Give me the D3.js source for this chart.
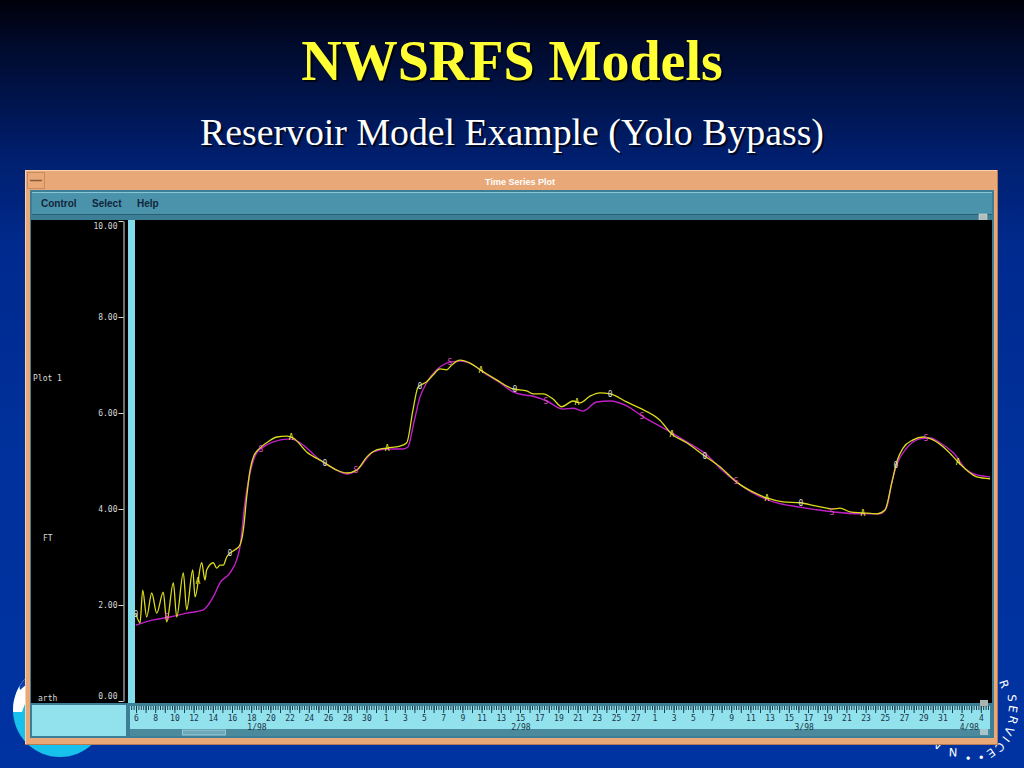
<!DOCTYPE html>
<html><head><meta charset="utf-8">
<script src="https://cdn.jsdelivr.net/npm/d3@7"></script>
<style>html,body{margin:0;padding:0;overflow:hidden;background:#0033a0}</style>
</head><body><svg id="c" width="1024" height="768"></svg>
<script>
// ---------------- DATA ----------------
const titleText = "NWSRFS Models";
const subtitleText = "Reservoir Model Example (Yolo Bypass)";
const windowTitle = "Time Series Plot";
const menuItems = ["Control", "Select", "Help"];
const sideLabels = ["Plot 1", "FT", "arth"];
const yTickValues = [0, 2, 4, 6, 8, 10];
const monthLabels = ["1/98", "2/98", "3/98", "4/98"];
const monthLabelDays = [18.6, 46.1, 75.6, 92.8];   // day of year 1998 (Jan 1 = 1)
// observed stage (yellow): [day of year, feet]
const observed = [[5.97,1.83],[6.42,1.63],[6.70,2.31],[7.11,1.75],[7.64,2.25],[8.16,1.83],[8.84,2.27],[9.20,1.65],[9.89,2.46],[10.24,1.75],
[10.93,2.67],[11.28,1.90],[11.91,2.73],[12.15,2.17],[12.84,2.88],[13.19,2.52],[13.36,2.73],[14.05,2.88],[14.41,2.77],[14.75,2.83],
[15.09,2.83],[15.45,3.00],[15.79,3.08],[16.31,3.15],[16.83,3.25],[17.18,3.56],[17.53,4.25],[17.88,4.81],[18.22,5.08],[18.92,5.27],
[19.61,5.38],[20.66,5.50],[21.70,5.52],[22.39,5.48],[23.78,5.19],[25.51,4.98],[26.91,4.81],[27.95,4.75],[28.99,4.81],[30.03,5.08],
[31.07,5.23],[32.11,5.27],[33.50,5.31],[34.20,5.38],[34.85,6.06],[35.38,6.54],[36.28,6.65],[36.94,6.79],[37.67,6.92],[38.36,6.90],
[38.89,7.00],[39.75,7.10],[40.79,7.04],[42.01,6.88],[43.57,6.69],[45.27,6.50],[46.70,6.46],[47.35,6.40],[48.40,6.40],[49.44,6.29],
[50.34,6.13],[51.52,6.25],[52.25,6.21],[53.29,6.35],[54.33,6.42],[55.38,6.40],[57.11,6.23],[58.50,6.10],[60.58,5.85],[61.80,5.56],
[63.36,5.38],[65.27,5.10],[66.83,4.88],[68.57,4.56],[70.30,4.35],[71.70,4.23],[73.40,4.15],[75.17,4.13],[76.91,4.06],[78.60,4.00],
[79.33,4.02],[80.38,3.94],[81.73,3.92],[83.16,3.90],[84.02,3.98],[84.72,4.54],[85.24,4.98],[85.90,5.27],[86.94,5.44],[87.98,5.50],
[89.02,5.44],[90.45,5.23],[91.63,4.98],[92.53,4.81],[93.57,4.67],[94.96,4.63]];
// simulated stage (magenta): [day of year, feet]
const simulated = [[5.97,1.58],[7.80,1.69],[9.54,1.75],[11.28,1.83],[13.01,1.90],[14.05,2.17],[14.75,2.46],[15.79,2.67],[16.49,2.94],[16.83,3.21],
[17.35,4.13],[17.88,4.75],[18.57,5.17],[19.26,5.29],[20.30,5.40],[22.04,5.46],[23.08,5.38],[25.17,5.02],[26.91,4.81],[27.95,4.73],
[28.99,4.81],[30.72,5.19],[32.11,5.25],[33.84,5.25],[34.33,5.29],[34.85,5.71],[35.58,6.33],[36.28,6.63],[37.32,6.90],[38.71,7.06],
[39.75,7.08],[41.14,7.00],[42.15,6.85],[43.92,6.63],[45.27,6.44],[46.31,6.38],[47.35,6.35],[48.78,6.25],[50.48,6.08],[51.52,6.10],
[52.56,6.04],[53.99,6.23],[55.38,6.25],[57.11,6.15],[58.84,5.92],[61.28,5.65],[63.36,5.40],[65.45,5.13],[66.83,4.85],[68.57,4.56],
[70.30,4.33],[72.39,4.15],[75.17,4.04],[78.60,3.94],[81.42,3.90],[83.50,3.90],[84.20,4.04],[84.72,4.54],[85.24,4.92],[86.28,5.27],
[87.67,5.46],[88.71,5.48],[89.75,5.38],[91.14,5.17],[92.53,4.81],[93.57,4.71],[94.96,4.67]];
// plot symbols along the curves
const markerDays = [6.0,9.23,12.46,15.79,19.02,22.15,25.69,28.92,32.15,35.58,38.71,41.94,45.48,48.71,51.94,55.38,58.71,61.83,65.27,68.50,71.73,75.27,78.50,81.73,85.17,88.29,91.63];
const markerSymbols = ["0","S","A","0","S","A","0","S","A","0","S","A","0","S","A","0","S","A","0","S","A","0","S","A","0","S","A"];
const logoLetters = ["R","S","E","R","V","I","C","E","\u2022","\u2022","N","A"];

// ---------------- DRAW ----------------
const svg = d3.select("#c");
const W = 1024, H = 768;
const defs = svg.append("defs");
const g = defs.append("linearGradient").attr("id","bg").attr("x1",0).attr("y1",0).attr("x2",0).attr("y2",1);
[[0,"#00000a"],[0.06,"#000a2c"],[0.2,"#001e6c"],[0.32,"#002a8e"],[0.6,"#00319c"],[1,"#0033a2"]]
  .forEach(s => g.append("stop").attr("offset", s[0]).attr("stop-color", s[1]));
svg.append("rect").attr("width",W).attr("height",H).attr("fill","url(#bg)");

const serif = "'Liberation Serif','Times New Roman',serif";
// title
svg.append("text").attr("x",514).attr("y",82).attr("text-anchor","middle").attr("font-family",serif)
  .attr("font-weight","bold").attr("font-size",56).attr("fill","#000").attr("opacity",0.7).text(titleText);
svg.append("text").attr("x",512).attr("y",80).attr("text-anchor","middle").attr("font-family",serif)
  .attr("font-weight","bold").attr("font-size",56).attr("fill","#ffff33").text(titleText);
svg.append("text").attr("x",514).attr("y",147).attr("text-anchor","middle").attr("font-family",serif)
  .attr("font-size",37.8).attr("fill","#000").attr("opacity",0.7).text(subtitleText);
svg.append("text").attr("x",512).attr("y",145).attr("text-anchor","middle").attr("font-family",serif)
  .attr("font-size",37.8).attr("fill","#ffffff").text(subtitleText);

// left logo (partially hidden)
svg.append("circle").attr("cx",60).attr("cy",710).attr("r",47).attr("fill","#18c0ec");
defs.append("clipPath").attr("id","lc").append("circle").attr("cx",60).attr("cy",710).attr("r",47);
svg.append("path").attr("clip-path","url(#lc)").attr("d","M0,660 L40,660 L30,690 L22,712 L0,712 Z").attr("fill","#ffffff");
svg.append("path").attr("clip-path","url(#lc)").attr("d","M15,660 L35,660 L27,684 L20,690 Z").attr("fill","#1040b0");

// right logo: letters around a seal
{
  const cx = 955, cy = 700;
  const pos = [[1004,684],[1012,698],[1013,709],[1013,720],[1009,731],[1006,739],[1000,747],[991,753],[981,757],[968,758],[953,752],[938,745]];
  logoLetters.forEach((ch,i) => {
    const [px,py] = pos[i];
    const ang = Math.atan2(py-cy, px-cx) * 180 / Math.PI + 90;
    svg.append("text").attr("transform",`translate(${px},${py}) rotate(${ang})`).attr("text-anchor","middle").attr("dy","0.35em")
      .attr("font-family","'DejaVu Sans',sans-serif").attr("font-size",11.5).attr("fill","#ffffff").text(ch);
  });
}

// window frame
svg.append("rect").attr("x",25).attr("y",170).attr("width",973).attr("height",575).attr("fill","#e9a877");
svg.append("line").attr("x1",25).attr("x2",998).attr("y1",170.5).attr("y2",170.5).attr("stroke","#f7d2ae");
svg.append("line").attr("x1",25.5).attr("x2",25.5).attr("y1",170).attr("y2",745).attr("stroke","#f7d2ae");
svg.append("line").attr("x1",25).attr("x2",998).attr("y1",744.5).attr("y2",744.5).attr("stroke","#b87a50");
svg.append("line").attr("x1",997.5).attr("x2",997.5).attr("y1",170).attr("y2",745).attr("stroke","#b87a50");
svg.append("rect").attr("x",27.5).attr("y",172.5).attr("width",17).attr("height",16).attr("fill","none").attr("stroke","#c98a60");
svg.append("line").attr("x1",30).attr("x2",42).attr("y1",180.5).attr("y2",180.5).attr("stroke","#8a5a3a").attr("stroke-width",1.5);
svg.append("text").attr("x",520).attr("y",185).attr("text-anchor","middle").attr("font-family","'Liberation Sans',Arial,sans-serif")
  .attr("font-weight","bold").attr("font-size",9).attr("fill","#ffffff").text(windowTitle);

// menubar
svg.append("rect").attr("x",30).attr("y",190).attr("width",964).attr("height",548).attr("fill","#3c7e95");
svg.append("rect").attr("x",32).attr("y",192).attr("width",960).attr("height",23).attr("fill","#4b93ab");
svg.append("line").attr("x1",32).attr("x2",992).attr("y1",192.5).attr("y2",192.5).attr("stroke","#86c6d6");
svg.append("line").attr("x1",32).attr("x2",992).attr("y1",214.5).attr("y2",214.5).attr("stroke","#2a5e72");
const menuX = [41, 92, 137];
menuItems.forEach((m,i) => svg.append("text").attr("x",menuX[i]).attr("y",207).attr("font-family","'Liberation Sans',Arial,sans-serif")
  .attr("font-weight","bold").attr("font-size",10).attr("fill","#12263a").text(m));
svg.append("rect").attr("x",979).attr("y",214).attr("width",8).attr("height",7).attr("fill","#b4bcbc").attr("stroke","#e0e6e6").attr("stroke-width",0.5);

// plot area
const PL = 31, PR = 992, PT = 220, PB = 703;
svg.append("rect").attr("x",PL).attr("y",PT).attr("width",PR-PL).attr("height",PB-PT).attr("fill","#000");

// scales
const base = Date.UTC(1998,0,1);
const toDate = d => new Date(base + (d-1)*864e5);
const x = d3.scaleUtc().domain([toDate(6), toDate(94)]).range([136, 980.8]);
const y = d3.scaleLinear().domain([0,10]).range([701,221]);

// y axis
const mono = "'DejaVu Sans Mono',monospace";
const yAx = svg.append("g").attr("transform","translate(123.5,0)")
  .call(d3.axisLeft(y).tickValues(yTickValues).tickFormat(d3.format(".2f")).tickSize(5).tickSizeOuter(0).tickPadding(1));
yAx.select(".domain").attr("stroke","#d8d8d8");
yAx.selectAll(".tick line").attr("stroke","#d8d8d8");
yAx.selectAll("text").attr("font-family",mono).attr("font-size",8).attr("fill","#d8d8d8")
  .attr("dy", d => d === 10 ? "0.9em" : d === 0 ? "-0.3em" : "0.32em");

// side labels
const sideX = [33, 43, 38], sideY = [381, 541, 701];
sideLabels.forEach((t,i) => svg.append("text").attr("x",sideX[i]).attr("y",sideY[i]).attr("font-family",mono)
  .attr("font-size",8).attr("fill","#d8d8d8").text(t));

// cyan bar
svg.append("rect").attr("x",128).attr("y",PT).attr("width",7).attr("height",PB-PT).attr("fill","#80dcea");

// curves
defs.append("clipPath").attr("id","pc").append("rect").attr("x",135).attr("y",PT).attr("width",PR-135).attr("height",PB-PT);
const line = d3.line().x(d => x(toDate(d[0]))).y(d => y(d[1])).curve(d3.curveMonotoneX);
const plot = svg.append("g").attr("clip-path","url(#pc)");
plot.append("path").datum(simulated).attr("d",line).attr("fill","none").attr("stroke","#c020c8").attr("stroke-width",1.4);
plot.append("path").datum(observed).attr("d",line).attr("fill","none").attr("stroke","#dcdc1c").attr("stroke-width",1.3);

// markers
const valueAt = (series, d) => {
  const i = d3.bisector(p => p[0]).left(series, d);
  if (i <= 0) return series[0][1];
  if (i >= series.length) return series[series.length-1][1];
  const a = series[i-1], b = series[i];
  return a[1] + (b[1]-a[1]) * (d - a[0]) / (b[0] - a[0]);
};
const markColor = {"0":"#d8d8d8","A":"#f0f030","S":"#e050c8"};
markerDays.forEach((d,i) => {
  const s = markerSymbols[i];
  const series = s === "S" ? simulated : observed;
  plot.append("text").attr("x", x(toDate(d))).attr("y", y(valueAt(series,d))).attr("dy","0.35em")
    .attr("text-anchor","middle").attr("font-family",mono).attr("font-size",8).attr("fill",markColor[s]).text(s);
});

// bottom ruler
svg.append("rect").attr("x",PL).attr("y",PB).attr("width",PR-PL).attr("height",34).attr("fill","#3c7e95");
svg.append("rect").attr("x",32).attr("y",705).attr("width",94).attr("height",31).attr("fill","#92e2ee");
svg.append("rect").attr("x",130).attr("y",706).attr("width",860).attr("height",23).attr("fill","#92e2ee");
svg.append("rect").attr("x",130).attr("y",729).attr("width",860).attr("height",7).attr("fill","#4a8a9c");
svg.append("rect").attr("x",182.5).attr("y",730).attr("width",43).attr("height",5).attr("fill","#6ea8b8").attr("stroke","#a4d6e0").attr("stroke-width",0.8);
svg.append("rect").attr("x",980).attr("y",700).attr("width",8).attr("height",7).attr("fill","#a8b4b4");
svg.append("rect").attr("x",980).attr("y",729).attr("width",8).attr("height",6).attr("fill","#a8c4cc");

defs.append("clipPath").attr("id","rc").append("rect").attr("x",131).attr("y",700).attr("width",858).attr("height",36);
const ruler = svg.append("g").attr("clip-path","url(#rc)");
const t0 = toDate(5), t1 = toDate(96);
const ax6 = ruler.append("g").attr("transform","translate(0,706)")
  .call(d3.axisBottom(x).tickValues(d3.utcHour.every(6).range(t0,t1)).tickSize(4).tickFormat(""));
const axD = ruler.append("g").attr("transform","translate(0,706)")
  .call(d3.axisBottom(x).tickValues(d3.utcDay.range(t0,t1)).tickSize(7).tickFormat(""));
const axL = ruler.append("g").attr("transform","translate(0,706)")
  .call(d3.axisBottom(x).tickValues(d3.utcDay.range(toDate(6),t1,2)).tickSize(0).tickPadding(0).tickFormat(d3.utcFormat("%-d")));
[ax6, axD, axL].forEach(a => { a.select(".domain").remove(); a.selectAll(".tick line").attr("stroke","#1c3c4c"); });
axL.selectAll("text").attr("font-family",mono).attr("font-size",8).attr("fill","#1c3444").attr("y",14.5).attr("dy",0);
ruler.selectAll(".month").data(monthLabels).join("text").attr("class","month")
  .attr("x",(d,i) => x(toDate(monthLabelDays[i]))).attr("y",730).attr("text-anchor","middle")
  .attr("font-family",mono).attr("font-size",8).attr("fill","#1c3444").text(d => d);
</script></body></html>
